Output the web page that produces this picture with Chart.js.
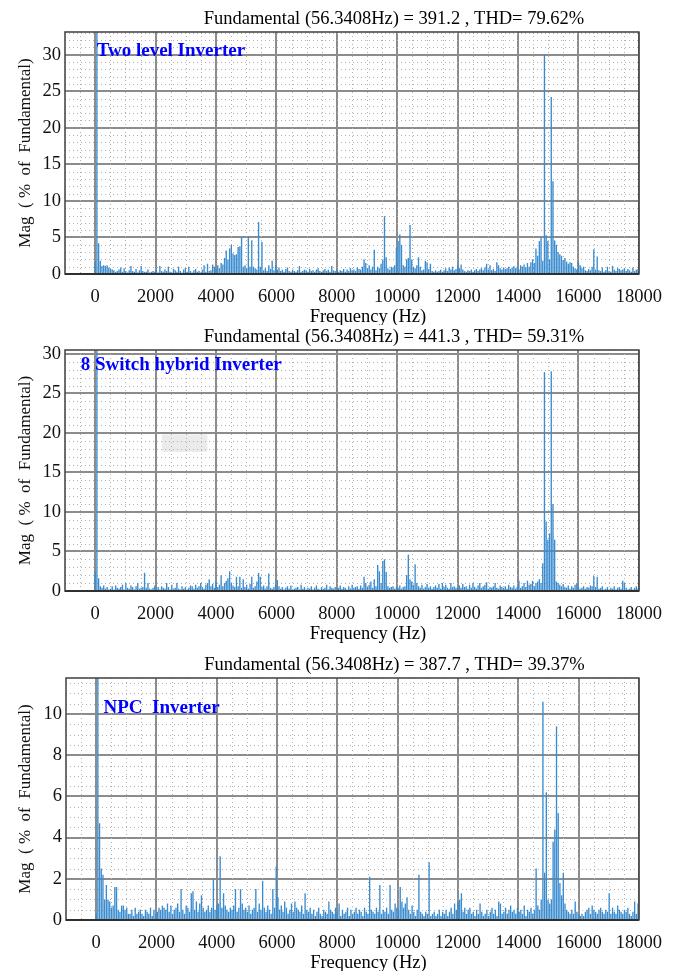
<!DOCTYPE html>
<html>
<head>
<meta charset="utf-8">
<script src="https://cdn.jsdelivr.net/npm/chart.js@4.4.1/dist/chart.umd.min.js"></script>
<style>
  html, body { margin: 0; padding: 0; background: #fff; }
  body { width: 674px; height: 971px; position: relative; overflow: hidden; }
  canvas { position: absolute; left: 0; }
</style>
</head>
<body>
<canvas id="fftTwoLevel" width="674" height="325" style="top:0"></canvas>
<canvas id="fftHybrid" width="674" height="320" style="top:325px"></canvas>
<canvas id="fftNpc" width="674" height="326" style="top:645px"></canvas>
<script>
// harmonic spacing (fundamental frequency), Hz
const F0 = 56.3408;

const xTicks = [0, 2000, 4000, 6000, 8000, 10000, 12000, 14000, 16000, 18000];
const yTicksTwoLevel = [0, 5, 10, 15, 20, 25, 30];
const yTicksHybrid = [0, 5, 10, 15, 20, 25, 30];
const yTicksNpc = [0, 2, 4, 6, 8, 10];

const titles = [
  "Fundamental (56.3408Hz) = 391.2 , THD= 79.62%",
  "Fundamental (56.3408Hz) = 441.3 , THD= 59.31%",
  "Fundamental (56.3408Hz) = 387.7 , THD= 39.37%"
];
const labels = ["Two level Inverter", "8 Switch hybrid Inverter", "NPC  Inverter"];

// magnitude (% of fundamental) of harmonic n = 0..319
const magTwoLevel = [
  1.7, 100, 4.2, 1.8, 1.1, 1.2, 1.1, 1.2, 0.9, 0.7,
  0.6, 0.5, 0.3, 0.4, 0.6, 0.9, 0.3, 0.8, 0.4, 0.2,
  0.5, 1.1, 0.4, 0.3, 0.7, 0.2, 0.5, 1.1, 0.4, 0.3,
  0.3, 0.6, 0.2, 0.3, 0.4, 0.3, 0.5, 0.2, 1.1, 0.4,
  0.3, 0.6, 0.4, 1.0, 0.3, 0.2, 0.7, 0.5, 0.3, 1.0,
  0.4, 0.2, 0.6, 0.8, 0.3, 1.0, 0.4, 0.2, 0.5, 0.7,
  0.3, 0.4, 0.2, 0.6, 1.2, 0.3, 1.4, 0.4, 0.5, 1.3,
  1.0, 0.6, 1.2, 0.8, 1.5, 1.3, 2.2, 3.2, 2.0, 3.5,
  4.0, 2.8, 2.6, 2.7, 3.7, 3.8, 5.0, 1.0, 1.2, 0.8,
  5.2, 1.0, 4.6, 1.0, 0.8, 0.6, 7.1, 1.0, 4.4, 0.5,
  0.8, 0.4, 1.2, 0.7, 1.8, 0.5, 1.2, 0.6, 0.9, 0.4,
  0.6, 0.3, 0.7, 0.9, 0.4, 0.3, 0.6, 0.4, 0.3, 0.5,
  1.1, 0.3, 0.4, 0.6, 0.5, 0.3, 0.7, 0.4, 0.5, 0.3,
  0.6, 0.8, 0.4, 0.3, 0.5, 0.7, 0.4, 0.6, 0.3, 1.1,
  0.5, 0.4, 0.6, 0.3, 0.5, 0.4, 0.7, 0.3, 0.6, 0.4,
  0.8, 0.5, 0.6, 0.4, 0.9, 0.7, 0.6, 1.0, 2.0, 1.5,
  0.8, 1.2, 0.6, 1.0, 3.3, 0.5, 1.0, 0.8, 1.4, 2.0,
  7.9, 2.3, 0.8, 0.6, 1.0, 0.9, 1.2, 3.6, 4.5, 5.4,
  4.0, 1.2, 1.0, 2.0, 2.2, 6.7, 2.0, 1.0, 0.8, 1.2,
  2.3, 1.0, 0.5, 0.6, 1.8, 1.6, 0.7, 1.4, 0.4, 0.3,
  0.5, 0.3, 0.4, 0.6, 0.3, 0.5, 0.8, 0.4, 0.9, 0.6,
  1.0, 0.5, 0.7, 1.3, 0.8, 1.3, 0.6, 0.4, 0.3, 0.5,
  0.4, 0.6, 0.3, 0.5, 0.7, 0.4, 0.6, 0.8, 0.5, 0.9,
  1.4, 0.6, 1.2, 0.5, 0.7, 0.4, 1.6, 1.2, 0.8, 0.6,
  0.9, 0.7, 0.8, 1.0, 0.7, 0.9, 1.1, 0.8, 1.0, 0.6,
  1.2, 1.0, 1.3, 0.9, 1.5, 1.0, 1.6, 2.0, 1.5, 3.5,
  2.5, 4.5, 5.0, 1.8, 30.0, 5.3, 4.5, 2.0, 24.2, 12.7,
  4.6, 4.0, 3.0, 2.7, 2.5, 1.9, 2.2, 1.7, 1.4, 1.6,
  1.5, 1.0, 0.8, 0.6, 1.6, 1.2, 0.8, 1.0, 0.5, 0.4,
  0.7, 0.5, 1.0, 3.4, 0.6, 2.4, 0.5, 0.4, 0.9, 0.3,
  0.5, 1.0, 0.4, 0.3, 1.1, 0.6, 0.4, 0.8, 0.7, 0.5,
  0.6, 0.8, 0.4, 0.7, 0.5, 0.3, 0.9, 0.4, 0.6, 0.7
];

const magHybrid = [
  2.5, 100, 1.6, 0.6, 0.4, 0.7, 0.3, 0.5, 0.2, 0.3,
  0.6, 0.2, 0.7, 0.4, 0.3, 0.5, 0.8, 0.2, 1.0, 0.4,
  0.3, 0.7, 0.5, 0.2, 0.6, 1.0, 0.3, 0.4, 0.5, 2.3,
  0.4, 1.0, 0.3, 0.2, 0.4, 0.7, 0.3, 0.5, 0.2, 0.6,
  0.4, 0.3, 1.0, 0.5, 0.2, 0.8, 0.3, 0.4, 1.0, 0.3,
  0.2, 0.6, 0.3, 0.5, 0.2, 0.4, 0.7, 0.6, 0.3, 0.8,
  0.4, 0.6, 1.0, 0.5, 0.3, 0.8, 1.0, 1.5, 0.6, 0.9,
  0.4, 1.2, 0.5, 0.8, 2.0, 0.6, 1.0, 1.3, 1.6, 2.5,
  1.0, 0.7, 0.5, 1.8, 0.6, 1.8, 0.4, 1.5, 0.5, 0.8,
  0.3, 0.9, 1.8, 0.4, 0.6, 1.2, 2.3, 1.8, 0.5, 0.7,
  0.3, 0.6, 2.2, 0.4, 0.3, 0.5, 0.8, 1.4, 0.6, 0.3,
  0.5, 0.2, 0.4, 0.6, 0.3, 0.7, 0.2, 0.3, 0.4, 0.5,
  0.2, 0.8, 0.3, 0.5, 0.2, 0.4, 0.3, 0.6, 0.2, 0.4,
  0.7, 0.3, 0.2, 0.5, 0.3, 0.4, 0.8, 0.2, 0.6, 0.4,
  0.3, 0.5, 0.2, 0.4, 0.7, 0.3, 0.5, 0.4, 0.2, 0.6,
  0.3, 0.8, 0.4, 0.5, 0.6, 0.3, 0.7, 0.4, 1.8, 1.0,
  0.5, 0.8, 1.2, 0.4, 1.5, 0.6, 3.3, 2.5, 1.0, 3.8,
  4.0, 2.4, 0.6, 0.4, 0.5, 0.6, 0.3, 0.5, 0.4, 0.7,
  0.3, 0.5, 0.6, 2.0, 4.6, 1.5, 1.2, 0.8, 3.4, 1.0,
  0.6, 0.4, 0.8, 0.3, 0.5, 0.9, 0.4, 0.6, 0.3, 0.5,
  0.7, 0.4, 0.9, 0.3, 1.0, 0.5, 0.8, 0.4, 0.3, 1.0,
  0.5, 0.6, 0.4, 0.3, 0.7, 0.4, 0.9, 0.5, 0.6, 0.3,
  0.8, 0.4, 1.0, 0.5, 0.3, 0.7, 1.0, 0.4, 0.6, 0.8,
  1.1, 0.3, 0.5, 0.4, 0.6, 1.0, 0.4, 0.3, 0.7, 0.5,
  0.4, 0.6, 0.3, 0.8, 0.5, 0.4, 0.7, 0.3, 0.5, 1.3,
  0.4, 0.6, 1.0, 0.5, 1.3, 0.8, 0.9, 1.3, 0.6, 1.0,
  1.2, 1.5, 1.0, 3.5, 27.7, 8.8, 6.5, 7.3, 27.8, 11.0,
  6.5, 1.2, 1.0, 0.8, 0.6, 0.9, 0.5, 0.4, 0.7, 0.3,
  0.6, 0.4, 0.8, 1.0, 0.5, 0.3, 0.4, 0.6, 0.3, 0.5,
  0.4, 0.7, 0.6, 1.9, 0.5, 1.8, 0.3, 0.4, 0.6, 0.2,
  0.3, 0.5, 0.2, 0.4, 0.3, 0.6, 0.2, 0.4, 0.5, 0.3,
  1.3, 1.0, 0.4, 0.2, 0.3, 0.5, 0.2, 0.4, 0.6, 0.3
];

const magNpc = [
  0.3, 100, 4.7, 2.5, 2.2, 1.0, 1.7, 1.0, 0.9, 0.6,
  0.7, 1.6, 1.6, 0.5, 0.4, 0.7, 0.7, 0.5, 0.6, 0.3,
  0.3, 0.5, 0.2, 0.6, 0.3, 0.4, 0.5, 0.3, 0.2, 0.5,
  0.4, 0.3, 0.6, 0.2, 0.5, 0.3, 0.4, 0.6, 0.5, 0.7,
  0.6, 0.5, 0.8, 0.4, 0.7, 0.3, 0.5, 0.6, 0.8, 0.4,
  1.5, 0.5, 0.3, 0.7, 0.6, 0.4, 1.3, 1.4, 0.5, 0.9,
  0.4, 0.8, 1.2, 0.6, 0.4, 0.5, 0.7, 0.4, 0.6, 2.0,
  0.5, 0.7, 0.8, 3.1, 0.6, 1.3, 0.7, 0.5, 0.4, 0.6,
  0.5, 0.7, 1.5, 0.4, 0.6, 1.5, 0.8, 0.5, 0.6, 0.4,
  0.7, 0.3, 0.5, 0.6, 1.5, 0.4, 0.8, 0.5, 1.9, 0.6,
  0.4, 0.7, 0.5, 0.3, 1.5, 0.6, 2.6, 1.1, 0.5, 0.7,
  0.4, 0.9, 0.6, 0.3, 0.5, 0.8, 0.4, 0.9, 0.6, 0.5,
  0.4, 0.7, 0.3, 1.3, 0.5, 0.4, 0.6, 0.3, 0.5, 0.2,
  0.4, 0.6, 0.3, 0.2, 0.5, 0.4, 0.3, 0.9, 0.5, 0.4,
  0.3, 0.6, 0.4, 0.8, 0.2, 0.5, 0.3, 0.4, 0.6, 0.2,
  0.5, 0.3, 0.4, 0.6, 0.3, 0.5, 0.4, 0.2, 0.6, 0.4,
  0.3, 2.1, 0.5, 0.4, 0.3, 0.6, 0.4, 1.7, 0.3, 0.5,
  0.4, 0.6, 0.3, 1.7, 0.5, 0.4, 0.8, 0.6, 0.5, 1.6,
  0.9, 0.6, 0.8, 1.1, 0.5, 0.3, 0.7, 0.4, 0.2, 0.5,
  2.2, 0.4, 0.3, 0.2, 0.4, 0.3, 2.8, 0.2, 0.3, 0.4,
  0.2, 0.3, 0.5, 0.2, 0.4, 0.3, 0.5, 0.2, 0.4, 0.6,
  0.3, 0.8, 0.5, 0.9, 1.0, 1.3, 0.4, 0.6, 0.3, 0.5,
  0.6, 0.3, 0.4, 0.2, 0.5, 0.3, 0.8, 0.4, 0.2, 0.3,
  0.5, 0.2, 0.4, 0.6, 0.3, 0.5, 0.2, 0.9, 0.8, 0.3,
  0.4, 0.6, 0.3, 0.5, 0.7, 0.4, 0.5, 0.3, 0.6, 0.4,
  0.5, 0.3, 0.7, 0.2, 0.5, 0.4, 0.6, 0.3, 0.5, 2.5,
  0.7, 0.5, 1.0, 10.6, 2.3, 6.2, 1.0, 0.8, 1.0, 3.8,
  4.4, 9.4, 5.2, 1.8, 1.2, 2.3, 0.8, 0.5, 0.4, 0.3,
  0.5, 0.3, 0.9, 0.4, 0.3, 0.2, 0.3, 0.2, 0.4, 0.5,
  0.6, 0.3, 0.7, 0.5, 0.4, 0.3, 0.5, 0.6, 0.4, 0.3,
  0.5, 0.4, 1.3, 0.3, 0.6, 0.4, 0.3, 0.7, 0.5, 0.4,
  0.3, 0.5, 0.4, 0.6, 0.3, 0.2, 0.4, 0.9, 0.3, 0.8
];

const SERIF = "'Liberation Serif', 'Times New Roman', serif";
const TXT = 18.5;

// minor dotted grid, frame, titles and the blue panel names
const decor = {
  id: "decor",
  beforeDraw(chart, args, o) {
    if (!o.shade) return;
    const { ctx, scales: { x, y } } = chart;
    const x0 = x.getPixelForValue(o.shade[0]), x1 = x.getPixelForValue(o.shade[1]);
    const y0 = y.getPixelForValue(o.shade[2]), y1 = y.getPixelForValue(o.shade[3]);
    ctx.save();
    ctx.fillStyle = "#ebebeb";
    ctx.fillRect(x0, y1, x1 - x0, y0 - y1);
    ctx.restore();
  },
  beforeDatasetsDraw(chart, args, o) {
    const { ctx, chartArea: a, scales: { x, y } } = chart;
    ctx.save();
    ctx.strokeStyle = "#b0b0b0";
    ctx.lineWidth = 1;
    ctx.setLineDash([1, 3]);
    ctx.beginPath();
    for (let f = -500; f < 18000; f += 500) {
      if (f % 2000 === 0) continue;
      const px = Math.round(x.getPixelForValue(f)) + 0.5;
      ctx.moveTo(px, a.top);
      ctx.lineTo(px, a.bottom);
    }
    for (let v = o.yMinor; v < y.max; v += o.yMinor) {
      const r = v / o.yMajor;
      if (Math.abs(r - Math.round(r)) < 1e-6) continue;
      const py = Math.round(y.getPixelForValue(v)) + 0.5;
      ctx.moveTo(a.left, py);
      ctx.lineTo(a.right, py);
    }
    ctx.stroke();
    ctx.restore();
  },
  afterDraw(chart, args, o) {
    const { ctx, chartArea: a, scales: { x, y } } = chart;
    ctx.save();
    ctx.strokeStyle = "#4a4a4a";
    ctx.lineWidth = 1.6;
    ctx.strokeRect(a.left, a.top, a.right - a.left, a.bottom - a.top);
    ctx.strokeStyle = "#303030";
    ctx.lineWidth = 2;
    ctx.beginPath();
    ctx.moveTo(a.left, a.bottom);
    ctx.lineTo(a.right, a.bottom);
    ctx.stroke();

    const cx = (a.left + a.right) / 2;
    ctx.fillStyle = "#000";
    ctx.font = TXT + "px " + SERIF;
    ctx.textAlign = "center";
    ctx.textBaseline = "middle";
    ctx.fillText(o.title, cx + 42, a.top - 13);
    ctx.fillText("Frequency (Hz)", cx + 16, a.bottom + 43);

    ctx.fillStyle = "#0000ff";
    ctx.font = "bold 19px " + SERIF;
    ctx.textAlign = "left";
    ctx.fillText(o.label, x.getPixelForValue(o.labelAt[0]), y.getPixelForValue(o.labelAt[1]));
    ctx.restore();
  }
};

function makeChart(id, mags, yTicks, yMax, yMajor, yMinor, idx, geo, extra) {
  const points = mags.map((v, n) => ({ x: n * F0, y: v }));
  const tickFont = { family: SERIF, size: TXT };
  return new Chart(document.getElementById(id), {
    type: "bar",
    data: {
      datasets: [{
        data: points,
        backgroundColor: "#3a8ccf",
        borderWidth: 0,
        barPercentage: 1,
        categoryPercentage: 0.8
      }]
    },
    options: {
      responsive: false,
      animation: false,
      events: [],
      layout: { padding: { top: geo.top, right: 674 - geo.right, left: 0, bottom: 0 } },
      plugins: {
        legend: { display: false },
        tooltip: { enabled: false },
        decor: Object.assign({
          title: titles[idx],
          label: labels[idx],
          yMajor: yMajor,
          yMinor: yMinor
        }, extra)
      },
      scales: {
        x: {
          type: "linear",
          min: -1000,
          max: 18000,
          offset: false,
          afterBuildTicks: (s) => { s.ticks = xTicks.map((v) => ({ value: v })); },
          afterFit: (s) => { s.height = geo.height - geo.bottom; },
          grid: { offset: false, color: "#8c8c8c", lineWidth: 2, drawTicks: false },
          border: { display: false },
          ticks: {
            font: tickFont, color: "#111", padding: 12, maxRotation: 0, autoSkip: false,
            callback: (v) => String(v)
          }
        },
        y: {
          min: 0,
          max: yMax,
          afterBuildTicks: (s) => { s.ticks = yTicks.map((v) => ({ value: v })); },
          afterFit: (s) => { s.width = geo.left; },
          grid: { color: "#8c8c8c", lineWidth: 2, drawTicks: false },
          border: { display: false },
          ticks: { font: tickFont, color: "#111", padding: 4, callback: (v) => String(v) },
          title: {
            display: true,
            text: "Mag  ( %  of  Fundamental)",
            font: { family: SERIF, size: 17 },
            color: "#111",
            padding: { top: 15, bottom: 0 }
          }
        }
      }
    },
    plugins: [decor]
  });
}

makeChart("fftTwoLevel", magTwoLevel, yTicksTwoLevel, 33.1, 5, 1, 0,
  { top: 32, bottom: 274, left: 65, right: 645, height: 325 },
  { labelAt: [50, 30.5] });

makeChart("fftHybrid", magHybrid, yTicksHybrid, 30.5, 5, 1, 1,
  { top: 25, bottom: 266, left: 65, right: 645, height: 320 },
  { labelAt: [-480, 28.6], shade: [2210, 3715, 17.6, 19.8] });

makeChart("fftNpc", magNpc, yTicksNpc, 11.75, 2, 0.5, 2,
  { top: 33, bottom: 275, left: 66, right: 646, height: 326 },
  { labelAt: [245, 10.3] });
</script>
</body>
</html>
